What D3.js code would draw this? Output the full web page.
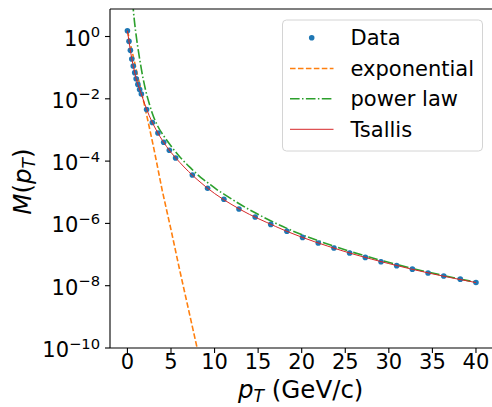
<!DOCTYPE html>
<html>
<head>
<meta charset="utf-8">
<script src="https://cdn.jsdelivr.net/npm/d3@7"></script>
<style>
  html, body { margin: 0; padding: 0; background: #fff; }
  svg { display: block; }
  text { font-family: "DejaVu Sans", sans-serif; fill: #000; }
</style>
</head>
<body>
<svg id="chart" width="492" height="407"></svg>
<script>
// ---- data ----
const dataPT = [0.0, 0.18, 0.34, 0.5, 0.67, 0.84, 1.0, 1.2, 1.4, 1.6, 2.2, 2.86, 3.5, 4.16, 4.81, 5.53, 7.45, 9.2, 11.07, 12.8, 14.66, 16.45, 18.3, 20.1, 21.9, 23.7, 25.5, 27.3, 29.1, 30.9, 32.7, 34.5, 36.3, 38.2, 40.0];
const dataM = [1.53, 0.70, 0.36, 0.19, 0.113, 0.069, 0.044, 0.029, 0.020, 0.0143, 4.54e-3, 1.74e-3, 7.98e-4, 4.01e-4, 2.22e-4, 1.26e-4, 3.58e-5, 1.34e-5, 5.94e-6, 2.90e-6, 1.60e-6, 9.3e-7, 5.6e-7, 3.55e-7, 2.34e-7, 1.62e-7, 1.12e-7, 8.1e-8, 5.9e-8, 4.4e-8, 3.4e-8, 2.57e-8, 2.05e-8, 1.62e-8, 1.26e-8];

const expPT = [0, 1, 2, 3, 4, 5, 6, 7, 8, 9];
const expM = [1.55, 0.0891, 5.62e-3, 2.82e-4, 1.12e-5, 6.31e-7, 3.16e-8, 1.78e-9, 1.0e-10, 5.62e-12];

const powPT = [0.6, 0.67, 0.8, 0.95, 1.1, 1.26, 1.45, 1.6, 1.8, 2.1, 2.5, 2.86, 3.5, 4.19, 4.96, 6.0, 7.25, 8.4, 9.2, 10.3, 11.07, 13.75, 14.66, 18.3, 23.7, 30.9, 40.0];
const powM = [13.2, 7.59, 3.16, 1.41, 0.676, 0.339, 0.158, 0.0891, 0.0447, 0.0182, 7.08e-3, 3.39e-3, 1.29e-3, 6.31e-4, 3.16e-4, 1.38e-4, 6.03e-5, 3.02e-5, 2.04e-5, 1.20e-5, 8.71e-6, 3.02e-6, 2.19e-6, 6.92e-7, 1.86e-7, 4.79e-8, 1.29e-8];

const tsPT = [0, 0.2, 0.4, 0.6, 0.8, 1.0, 1.25, 1.5, 2.0, 2.5, 3.0, 3.5, 4.0, 5.0, 6.0, 7.0, 8.0, 10, 12, 14, 16, 18, 20, 23, 26, 30, 35, 40];
const tsM = [1.535, 0.646, 0.282, 0.138, 0.0776, 0.0442, 0.0266, 0.0170, 6.61e-3, 2.88e-3, 1.45e-3, 7.94e-4, 4.68e-4, 1.91e-4, 9.12e-5, 4.68e-5, 2.57e-5, 9.12e-6, 3.98e-6, 1.95e-6, 1.07e-6, 6.03e-7, 3.63e-7, 1.86e-7, 1.02e-7, 5.13e-8, 2.40e-8, 1.26e-8];

const xTicks = [0, 5, 10, 15, 20, 25, 30, 35, 40];
const yTickExps = [0, -2, -4, -6, -8, -10];
const legendLabels = ["Data", "exponential", "power law", "Tsallis"];

// ---- layout ----
const svg = d3.select("#chart");
const L = 110, R = 493.4, T = 9, B = 348;
const FS = 21;
const x = d3.scaleLinear().domain([-2, 42]).range([L, R]);
const y = d3.scaleLog().domain([1e-10, Math.pow(10, 0.883)]).range([B, T]);

svg.append("defs").append("clipPath").attr("id", "clip")
  .append("rect").attr("x", L).attr("y", T).attr("width", R - L).attr("height", B - T);

const g = svg.append("g").attr("clip-path", "url(#clip)");
const line = d3.line().x(d => x(d[0])).y(d => y(d[1]));
const smooth = d3.line().x(d => x(d[0])).y(d => y(d[1])).curve(d3.curveMonotoneX);

const zip = (a, b) => a.map((v, i) => [v, b[i]]);

// exponential
g.append("path").attr("d", line(zip(expPT, expM)))
  .attr("fill", "none").attr("stroke", "#ff7f0e").attr("stroke-width", 1.6)
  .attr("stroke-dasharray", "5.55,2.4");

// power law
g.append("path").attr("d", smooth(zip(powPT, powM)))
  .attr("fill", "none").attr("stroke", "#2ca02c").attr("stroke-width", 1.6)
  .attr("stroke-dasharray", "9.6,2.4,1.5,2.4");

// data dots
g.selectAll("circle.data").data(zip(dataPT, dataM)).enter().append("circle")
  .attr("class", "data")
  .attr("cx", d => x(d[0])).attr("cy", d => y(d[1])).attr("r", 2.8)
  .attr("fill", "#1f77b4");

// tsallis
g.append("path").attr("d", smooth(zip(tsPT, tsM)))
  .attr("fill", "none").attr("stroke", "#d62728").attr("stroke-width", 1.0);

// ---- axes ----
const ax = svg.append("g");
const sw = 1.1;
ax.append("line").attr("x1", L).attr("x2", L).attr("y1", T).attr("y2", B).attr("stroke", "#000").attr("stroke-width", sw);
ax.append("line").attr("x1", L).attr("x2", R).attr("y1", B).attr("y2", B).attr("stroke", "#000").attr("stroke-width", sw);
ax.append("line").attr("x1", L).attr("x2", R).attr("y1", T).attr("y2", T).attr("stroke", "#000").attr("stroke-width", sw);
ax.append("line").attr("x1", R).attr("x2", R).attr("y1", T).attr("y2", B).attr("stroke", "#000").attr("stroke-width", sw);

// x ticks
xTicks.forEach(v => {
  const px = x(v);
  ax.append("line").attr("x1", px).attr("x2", px).attr("y1", B).attr("y2", B + 5).attr("stroke", "#000").attr("stroke-width", sw);
  ax.append("text").attr("x", px).attr("y", B + 21).attr("text-anchor", "middle")
    .attr("font-size", FS).text(v);
});

// y ticks
yTickExps.forEach(e => {
  const py = y(Math.pow(10, e));
  ax.append("line").attr("x1", L - 5).attr("x2", L).attr("y1", py).attr("y2", py).attr("stroke", "#000").attr("stroke-width", sw);
  const t = ax.append("text").attr("x", 100).attr("y", py + 9).attr("text-anchor", "end").attr("font-size", FS);
  t.append("tspan").text("10");
  t.append("tspan").attr("font-size", FS * 0.7).attr("dy", -8.5).text(e === 0 ? "0" : "\u2212" + Math.abs(e));
});

// axis labels
const LFS = 24.5;
const xl = svg.append("text").attr("x", (L + R) / 2 - 1).attr("y", 398).attr("text-anchor", "middle").attr("font-size", LFS);
xl.append("tspan").attr("font-style", "italic").text("p");
xl.append("tspan").attr("font-style", "italic").attr("font-size", LFS * 0.7).attr("dy", 4).text("T");
xl.append("tspan").attr("dy", -4).text(" (GeV/c)");

const yl = svg.append("text").attr("transform", `translate(31,${(T + B) / 2 + 3}) rotate(-90)`)
  .attr("text-anchor", "middle").attr("font-size", LFS);
yl.append("tspan").attr("font-style", "italic").text("M");
yl.append("tspan").text("(");
yl.append("tspan").attr("font-style", "italic").text("p");
yl.append("tspan").attr("font-style", "italic").attr("font-size", LFS * 0.7).attr("dy", 4).text("T");
yl.append("tspan").attr("dy", -4).text(")");

// ---- legend ----
const lg = svg.append("g");
lg.append("rect").attr("x", 282.5).attr("y", 20).attr("width", 200).attr("height", 131)
  .attr("rx", 4).attr("fill", "#fff").attr("fill-opacity", 0.8)
  .attr("stroke", "#d4d4d4").attr("stroke-width", 1);
const rowY = [37.7, 68.5, 98.8, 129.3];
legendLabels.forEach((lab, i) => {
  lg.append("text").attr("x", 350.5).attr("y", rowY[i] + 7.5).attr("font-size", FS).text(lab);
});
lg.append("circle").attr("cx", 311.7).attr("cy", rowY[0]).attr("r", 2.8).attr("fill", "#1f77b4");
lg.append("line").attr("x1", 290).attr("x2", 333.5).attr("y1", rowY[1]).attr("y2", rowY[1])
  .attr("stroke", "#ff7f0e").attr("stroke-width", 1.6).attr("stroke-dasharray", "5.55,2.4");
lg.append("line").attr("x1", 290).attr("x2", 333.5).attr("y1", rowY[2]).attr("y2", rowY[2])
  .attr("stroke", "#2ca02c").attr("stroke-width", 1.6).attr("stroke-dasharray", "9.6,2.4,1.5,2.4");
lg.append("line").attr("x1", 290).attr("x2", 333.5).attr("y1", rowY[3]).attr("y2", rowY[3])
  .attr("stroke", "#d62728").attr("stroke-width", 1.0);
</script>
</body>
</html>
